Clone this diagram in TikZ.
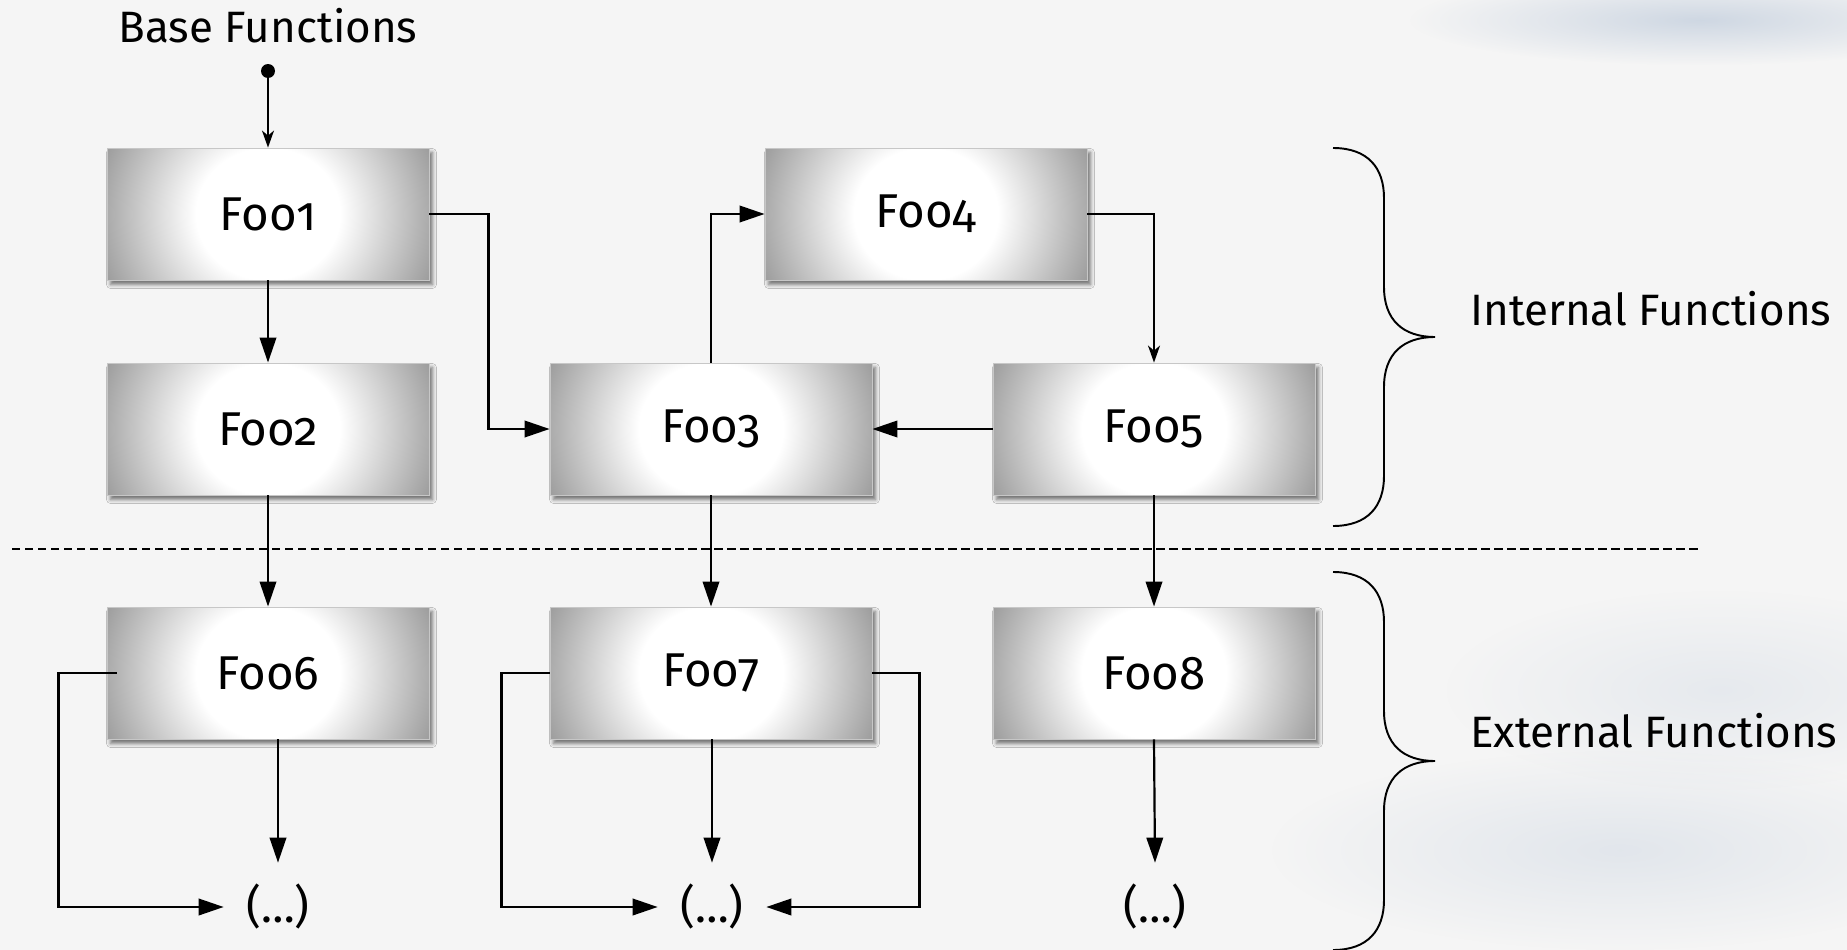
\documentclass[tikz,border=0pt]{standalone}
\usepackage{fontspec}
\setmainfont{Fira Sans}[Numbers=OldStyle]
\usetikzlibrary{arrows.meta,shadows.blur,fadings}

% soft grey edges, white centre for the function boxes
\pgfdeclareradialshading{boxglow}{\pgfpoint{0bp}{0bp}}{%
  color(0bp)=(white); color(10bp)=(white); color(25bp)=(black!40); color(50bp)=(black!40)}
\tikzfading[name=softspot, inner color=transparent!30, outer color=transparent!100]
\definecolor{smudge}{RGB}{184,198,216}

\tikzset{
  pics/curly/.style={code={
    \draw[line width=1.1pt]
      (0,0) .. controls (35,0) and (51,20) .. (51,50) -- (51,139)
      .. controls (51,172) and (70,189) .. (102,189)
      .. controls (70,189) and (51,206) .. (51,239) -- (51,328)
      .. controls (51,358) and (35,378) .. (0,378);
  }}
}

\begin{document}
\begin{tikzpicture}[x=0.02cm, y=-0.02cm,
  fnbox/.style={rectangle, minimum width=6.44cm, minimum height=2.64cm,
    inner sep=0pt, draw=black!22, line width=0.5pt,
    font=\fontsize{27}{32}\selectfont,
    path picture={\shade[shading=boxglow] (path picture bounding box.center)
      ellipse [x radius=3.6cm, y radius=3.3cm];},
    blur shadow={shadow xshift=0.07cm, shadow yshift=-0.09cm,
      shadow blur radius=0.08cm, shadow opacity=55}},
  more/.style={inner sep=0pt, minimum width=2.16cm, minimum height=1.76cm,
    font=\fontsize{26}{30}\selectfont},
  lbl/.style={inner sep=0pt, font=\fontsize{25}{30}\selectfont},
  conn/.style={line width=1.25pt, -{Triangle[length=0.5cm, width=0.33cm]}},
  thinconn/.style={line width=1.1pt, -{Stealth[length=0.34cm, width=0.24cm, inset=0.1cm]}}
]
% background
\fill[black!4] (0,0) rectangle (1847,950);
\useasboundingbox (0,0) rectangle (1847,950);
\fill[smudge, path fading=softspot, opacity=0.9] (1700,20) ellipse [x radius=5.8cm, y radius=0.9cm];
\fill[smudge, path fading=softspot, opacity=0.45] (1620,850) ellipse [x radius=7cm, y radius=2cm];
\fill[smudge, path fading=softspot, opacity=0.35] (1720,690) ellipse [x radius=5.5cm, y radius=2cm];

% function boxes
\node[fnbox] (foo1) at (268,214) {Foo1};
\node[fnbox] (foo2) at (268,429) {Foo2};
\node[fnbox] (foo3) at (711,429) {Foo3};
\node[fnbox] (foo4) at (926,214) {Foo4};
\node[fnbox] (foo5) at (1154,429) {Foo5};
\node[fnbox] (foo6) at (268,673) {Foo6};
\node[fnbox] (foo7) at (711,673) {Foo7};
\node[fnbox] (foo8) at (1154,673) {Foo8};

% continuation markers
\node[more] (more1) at (278,907) {(…)};
\node[more] (more2) at (712,907) {(…)};
\node[more] (more3) at (1155,907) {(…)};

% entry point
\node[lbl, anchor=base] (base) at (268,42) {Base Functions};
\node[circle, fill=black, inner sep=0pt, minimum size=0.28cm] (dot) at (268,71) {};
\draw[thinconn] (dot) -- (foo1.north);

% internal calls
\draw[conn] (foo1) -- (foo2);
\draw[conn] (foo1.east) -- ++(59,0) |- (foo3.west);
\draw[conn] (foo3.north) |- (foo4.west);
\draw[thinconn] (foo4.east) -| (foo5.north);
\draw[conn] (foo5.west) -- (foo3.east);

% calls into external functions
\draw[conn] (foo2) -- (foo6);
\draw[conn] (foo3) -- (foo7);
\draw[conn] (foo5) -- (foo8);

% external fan-out
\draw[conn] (foo6.south -| more1.north) -- (more1.north);
\draw[conn] (foo7.south -| more2.north) -- (more2.north);
\draw[conn] (foo8.south) -- (more3.north);
\draw[conn] ([xshift=0.2cm]foo6.west) -- ++(-58,0) |- (more1.west);
\draw[conn] (foo7.west) -- ++(-48,0) |- (more2.west);
\draw[conn] (foo7.east) -- ++(47,0) |- (more2.east);

% separator
\coordinate (sepL) at (12,549);
\coordinate (sepR) at (1699,549);
\draw[line width=0.9pt, dash pattern=on 4.8pt off 2.6pt] (sepL) -- (sepR);

% group braces and their labels
\pic at (1333,148) {curly};
\pic at (1333,572) {curly};
\node[lbl, anchor=base west] (intl) at (1470,325) {Internal Functions};
\node[lbl, anchor=base west] (extl) at (1470,747) {External Functions};
\end{tikzpicture}
\end{document}
